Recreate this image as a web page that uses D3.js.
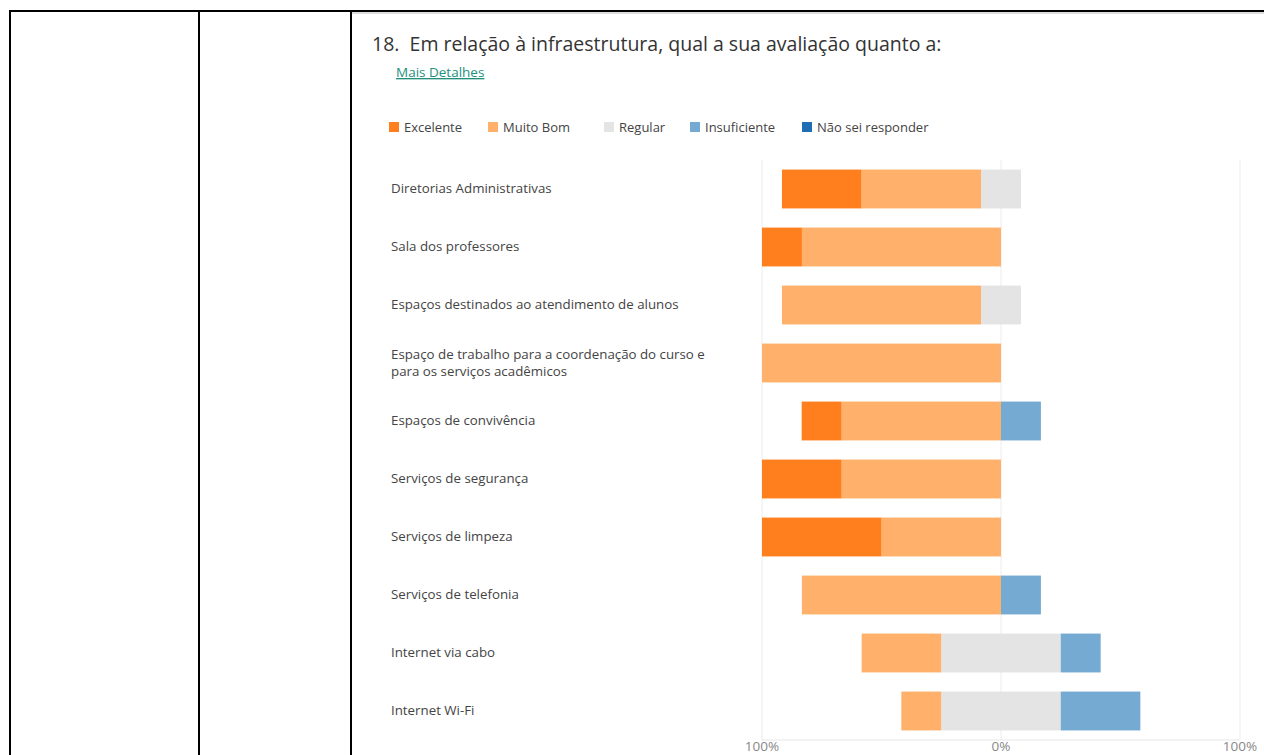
<!DOCTYPE html>
<html>
<head>
<meta charset="utf-8">
<script src="https://cdn.jsdelivr.net/npm/d3@7"></script>
<style>
  body { margin: 0; background: #fff; }
  svg { display: block; }
</style>
</head>
<body>
<div id="chart"></div>
<script>

var categories = [
    "Diretorias Administrativas",
    "Sala dos professores",
    "Espaços destinados ao atendimento de alunos",
    "Espaço de trabalho para a coordenação do curso e|para os serviços acadêmicos",
    "Espaços de convivência",
    "Serviços de segurança",
    "Serviços de limpeza",
    "Serviços de telefonia",
    "Internet via cabo",
    "Internet Wi-Fi"
];

var seriesNames = ["Excelente", "Muito Bom", "Regular", "Insuficiente", "Não sei responder"];
var seriesColors = ["#ff7f1e", "#ffb06b", "#e4e4e4", "#75aad3", "#1f6eb3"];

// percentages per category
var excelente    = [33.3, 16.7, 0, 0, 16.7, 33.3, 50, 0, 0, 0];
var muitoBom     = [50, 83.3, 83.3, 100, 66.7, 66.7, 50, 83.3, 33.3, 16.7];
var regular      = [16.7, 0, 16.7, 0, 0, 0, 0, 0, 50, 50];
var insuficiente = [0, 0, 0, 0, 16.7, 0, 0, 16.7, 16.7, 33.3];
var naoSei       = [0, 0, 0, 0, 0, 0, 0, 0, 0, 0];

var axisTicks = [-100, 0, 100];

var width = 1264, height = 755;
var font = "'Open Sans', 'Noto Sans', sans-serif";

var svg = d3.select("#chart").append("svg")
    .attr("width", width)
    .attr("height", height);

// table frame
var frame = svg.append("g").attr("stroke", "#000").attr("stroke-width", 2);
frame.append("line").attr("x1", 9).attr("x2", width).attr("y1", 11).attr("y2", 11);
[10, 199, 351].forEach(function (x) {
    frame.append("line").attr("x1", x).attr("x2", x).attr("y1", 10).attr("y2", height);
});
svg.append("line").attr("x1", 352).attr("x2", width).attr("y1", 13).attr("y2", 13)
    .attr("stroke", "#bbb").attr("stroke-width", 1);

// header
svg.append("text")
    .attr("x", 372).attr("y", 51)
    .attr("font-family", font).attr("font-size", "19.5px")
    .attr("fill", "#333")
    .attr("xml:space", "preserve")
    .text("18.  Em relação à infraestrutura, qual a sua avaliação quanto a:");

svg.append("text")
    .attr("x", 396).attr("y", 77)
    .attr("font-family", font).attr("font-size", "13.5px")
    .attr("fill", "#23907e")
    .attr("text-decoration", "underline")
    .text("Mais Detalhes");

// legend
var legendX = [389, 488, 604, 690, 802];
var legend = svg.append("g").selectAll("g")
    .data(seriesNames)
    .enter().append("g")
    .attr("transform", function (d, i) { return "translate(" + legendX[i] + ",122)"; });
legend.append("rect").attr("width", 10).attr("height", 10)
    .attr("fill", function (d, i) { return seriesColors[i]; });
legend.append("text")
    .attr("x", 15).attr("y", 9.5)
    .attr("font-family", font).attr("font-size", "13px")
    .attr("fill", "#444")
    .text(function (d) { return d; });

// scales
var x = d3.scaleLinear().domain([-100, 100]).range([762, 1240]);
var y = d3.scaleBand().domain(categories).range([160, 740])
    .paddingInner(0.33).paddingOuter(0.165);

// grid
var grid = svg.append("g");
grid.selectAll("line")
    .data(axisTicks)
    .enter().append("line")
    .attr("x1", x).attr("x2", x)
    .attr("y1", 160).attr("y2", 740)
    .attr("stroke", "#ececec");
grid.append("line")
    .attr("x1", x(-100)).attr("x2", x(100))
    .attr("y1", 740).attr("y2", 740)
    .attr("stroke", "#e6e6e6");

// stacked diverging segments
var rows = categories.map(function (c, i) {
    var segs = [];
    var left = -regular[i] / 2;
    // negative side: Muito Bom then Excelente
    segs.push({ s: 2, x0: left, x1: left + regular[i] });
    segs.push({ s: 1, x0: left - muitoBom[i], x1: left });
    segs.push({ s: 0, x0: left - muitoBom[i] - excelente[i], x1: left - muitoBom[i] });
    var right = regular[i] / 2;
    segs.push({ s: 3, x0: right, x1: right + insuficiente[i] });
    segs.push({ s: 4, x0: right + insuficiente[i], x1: right + insuficiente[i] + naoSei[i] });
    segs.forEach(function (d) { d.cat = c; });
    return segs.filter(function (d) { return d.x1 - d.x0 > 0; });
});

svg.append("g").selectAll("rect")
    .data(d3.merge(rows))
    .enter().append("rect")
    .attr("x", function (d) { return x(d.x0); })
    .attr("width", function (d) { return x(d.x1) - x(d.x0); })
    .attr("y", function (d) { return y(d.cat); })
    .attr("height", y.bandwidth())
    .attr("fill", function (d) { return seriesColors[d.s]; });

// category labels
var labels = svg.append("g").selectAll("text")
    .data(categories)
    .enter().append("text")
    .attr("x", 391)
    .attr("y", function (d) {
        var n = d.split("|").length;
        return y(d) + y.bandwidth() / 2 + 4 - (n - 1) * 8.5;
    })
    .attr("dy", "0.35em")
    .attr("font-family", font).attr("font-size", "13.3px")
    .attr("fill", "#444");
labels.selectAll("tspan")
    .data(function (d) { return d.split("|"); })
    .enter().append("tspan")
    .attr("x", 391)
    .attr("dy", function (d, i) { return i ? 17 : 0; })
    .text(function (d) { return d; });

// axis labels
svg.append("g").selectAll("text")
    .data(axisTicks)
    .enter().append("text")
    .attr("x", x)
    .attr("y", 751)
    .attr("text-anchor", "middle")
    .attr("font-family", font).attr("font-size", "13.5px")
    .attr("fill", "#888")
    .text(function (d) { return Math.abs(d) + "%"; });

</script>
</body>
</html>
